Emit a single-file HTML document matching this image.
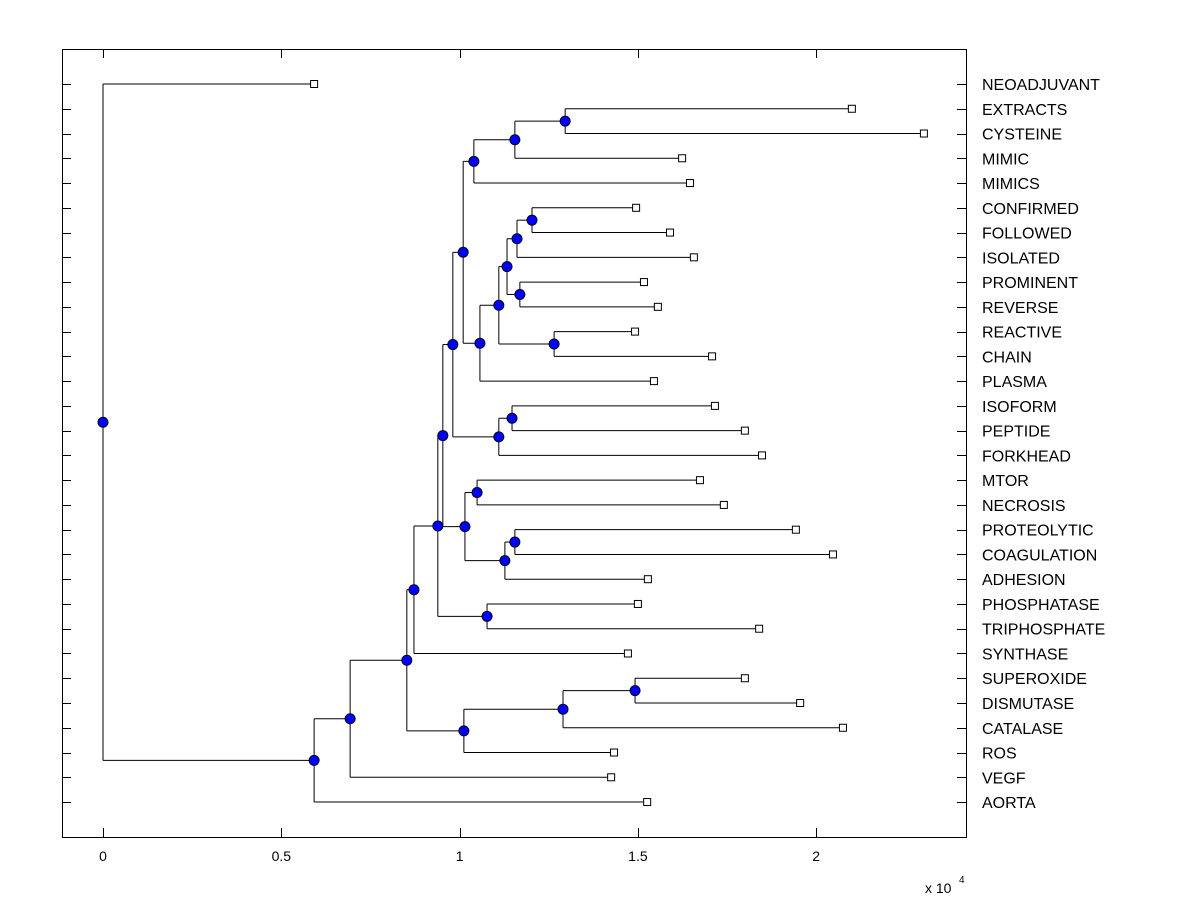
<!DOCTYPE html>
<html><head><meta charset="utf-8"><style>
body{margin:0;background:#fff;}
svg text{font-family:"Liberation Sans",Arial,sans-serif;font-size:16px;fill:#000;}
</style></head><body>
<svg id="chart" width="1200" height="900" xmlns="http://www.w3.org/2000/svg">
<rect x="62.5" y="49.5" width="904" height="788" fill="#fff" stroke="#000" stroke-width="1"/>
<g id="ticks"></g><g id="links"></g><g id="marks"></g><g id="labels"></g>
<text x="925" y="893" style="font-size:14px">x 10</text>
<text x="959" y="883" style="font-size:10px">4</text>
</svg>
<script>
const leafNames=["NEOADJUVANT","EXTRACTS","CYSTEINE","MIMIC","MIMICS","CONFIRMED","FOLLOWED","ISOLATED","PROMINENT","REVERSE","REACTIVE","CHAIN","PLASMA","ISOFORM","PEPTIDE","FORKHEAD","MTOR","NECROSIS","PROTEOLYTIC","COAGULATION","ADHESION","PHOSPHATASE","TRIPHOSPHATE","SYNTHASE","SUPEROXIDE","DISMUTASE","CATALASE","ROS","VEGF","AORTA"];
const leafValues=[0.592,2.100,2.302,1.624,1.646,1.495,1.590,1.657,1.517,1.556,1.492,1.708,1.545,1.716,1.800,1.848,1.674,1.741,1.943,2.047,1.528,1.500,1.840,1.472,1.800,1.955,2.075,1.433,1.425,1.526];
// internal nodes: heights and children ("L#" leaf, "N#" node)
const nodeHeights={root:0,N1:0.592,N2:0.693,N3:0.852,N4:0.872,N5:1.012,N6:1.290,N7:1.492,N8:0.939,N9:0.953,N10:1.077,N11:0.981,N12:1.015,N13:1.049,N14:1.127,N15:1.155,N16:1.010,N17:1.110,N18:1.147,N19:1.040,N20:1.057,N21:1.155,N22:1.296,N23:1.110,N24:1.133,N25:1.265,N26:1.161,N27:1.169,N28:1.203};
const nodeChildren={root:["L0","N1"],N1:["N2","L29"],N2:["N3","L28"],N3:["N4","N5"],N5:["N6","L27"],N6:["N7","L26"],N7:["L24","L25"],N4:["N8","L23"],N8:["N9","N10"],N10:["L21","L22"],N9:["N11","N12"],N12:["N13","N14"],N13:["L16","L17"],N14:["N15","L20"],N15:["L18","L19"],N11:["N16","N17"],N17:["N18","L15"],N18:["L13","L14"],N16:["N19","N20"],N19:["N21","L4"],N21:["N22","L3"],N22:["L1","L2"],N20:["N23","L12"],N23:["N24","N25"],N25:["L10","L11"],N24:["N26","N27"],N26:["N28","L7"],N28:["L5","L6"],N27:["L8","L9"]};
const xTickValues=[0,0.5,1,1.5,2];
const xTickLabels=["0","0.5","1","1.5","2"];

const NS="http://www.w3.org/2000/svg";
const X=v=>103+v*356.6;
const Y=i=>84+i*24.76;
function mk(tag,attrs,parent){const e=document.createElementNS(NS,tag);for(const k in attrs)e.setAttribute(k,attrs[k]);document.getElementById(parent).appendChild(e);return e;}

// y ticks and leaf labels
leafNames.forEach((n,i)=>{
  const y=Math.round(Y(i))+0.5;
  let t=mk("line",{x1:62,x2:71,y1:y,y2:y,stroke:"#000"},"ticks");
  
  
  t=mk("line",{x1:957,x2:966,y1:y,y2:y,stroke:"#000"},"ticks");
  
  
  const l=mk("text",{x:982,y:Y(i)+6},"labels");l.textContent=n;
  
  
});
xTickValues.forEach((v,i)=>{
  const x=Math.round(X(v))+0.5;
  let t=mk("line",{x1:x,x2:x,y1:828,y2:837,stroke:"#000"},"ticks");
  
  
  t=mk("line",{x1:x,x2:x,y1:49,y2:58,stroke:"#000"},"ticks");
  
  
  const l=mk("text",{x:X(v),y:861,"text-anchor":"middle",style:"font-size:14px"},"labels");l.textContent=xTickLabels[i];
  
  
});

function draw(id){
  if(id[0]==="L"){const i=+id.slice(1);return {x:X(leafValues[i]),y:Y(i)};}
  const h=X(nodeHeights[id]);
  const ch=nodeChildren[id].map(draw);
  const ys=ch.map(c=>c.y);
  const y=(ys[0]+ys[1])/2;
  let v=mk("line",{x1:h,x2:h,y1:Math.min(...ys),y2:Math.max(...ys),stroke:"#000","stroke-width":1},"links");
  
  
  ch.forEach(c=>{
    const l=mk("line",{x1:h,x2:c.x,y1:c.y,y2:c.y,stroke:"#000","stroke-width":1},"links");
    
    
  });
  const d=mk("circle",{cx:h,cy:y,r:5,fill:"#0000ff",stroke:"#000020","stroke-width":1},"marks");
  
  
  return {x:h,y:y};
}
draw("root");
leafValues.forEach((v,i)=>{
  const s=mk("rect",{x:X(v)-3.5,y:Y(i)-3.5,width:7,height:7,fill:"#fff",stroke:"#000","stroke-width":1},"marks");
  
  
});
</script>
</body></html>
